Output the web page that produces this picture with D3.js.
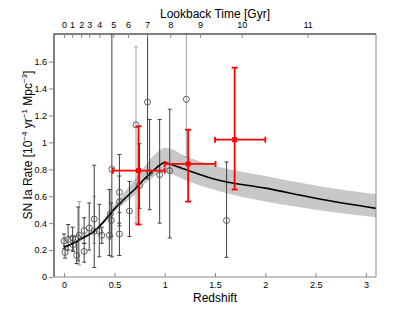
<!DOCTYPE html>
<html>
<head>
<meta charset="utf-8">
<script src="https://cdn.jsdelivr.net/npm/d3@7"></script>
<style>
  body { margin: 0; background: #fff; }
  text { font-family: "Liberation Sans", Arial, sans-serif; fill: #000; }
</style>
</head>
<body>
<div id="chart"></div>
<script>
// model curve
const modelZ    = [0, 0.1, 0.2, 0.3, 0.4, 0.5, 0.6, 0.7, 0.8, 0.9, 0.95, 1.0, 1.05, 1.2, 1.5, 2.0, 2.5, 3.1];
const modelRate = [0.22, 0.255, 0.295, 0.34, 0.415, 0.505, 0.58, 0.65, 0.73, 0.80, 0.83, 0.85, 0.84, 0.80, 0.726, 0.66, 0.585, 0.51];
const bandLo    = [0.22, 0.25, 0.285, 0.33, 0.405, 0.485, 0.55, 0.61, 0.69, 0.75, 0.77, 0.78, 0.77, 0.72, 0.646, 0.56, 0.50, 0.444];
const bandHi    = [0.22, 0.26, 0.305, 0.35, 0.435, 0.535, 0.63, 0.725, 0.82, 0.91, 0.94, 0.96, 0.955, 0.90, 0.827, 0.75, 0.68, 0.614];

// literature points, dark error bars
const darkZ    = [0.00, 0.01, 0.04, 0.085, 0.09, 0.125, 0.14, 0.20, 0.20, 0.25, 0.30, 0.35, 0.375, 0.45, 0.47, 0.475, 0.55, 0.55, 0.55, 0.65, 0.75, 0.83, 0.85, 0.95, 1.05, 1.615];
const darkRate = [0.267, 0.183, 0.28, 0.29, 0.24, 0.16, 0.29, 0.19, 0.345, 0.365, 0.34, 0.34, 0.31, 0.31, 0.42, 0.80, 0.56, 0.63, 0.32, 0.49, 0.68, 1.30, 0.775, 0.76, 0.79, 0.42];
const darkLo   = [0.21, 0.14, 0.20, 0.20, 0.19, 0.10, 0.12, 0.11, 0.25, 0.20, 0.07, 0.15, 0.25, 0.16, 0.30, 0.15, 0.38, 0.40, 0.16, 0.30, 0.51, 0.73, 0.50, 0.40, 0.29, 0.146];
const darkHi   = [0.32, 0.23, 0.39, 0.37, 0.30, 0.26, 0.52, 0.25, 0.44, 0.55, 0.83, 0.54, 0.37, 0.65, 0.55, 2.5, 0.75, 0.91, 0.48, 0.71, 0.99, 2.5, 1.17, 1.17, 1.246, 0.855];

// literature points, light error bars
const lightZ    = [0.15, 0.30, 0.46, 0.715, 1.215];
const lightRate = [0.31, 0.43, 0.47, 1.13, 1.32];
const lightLo   = [0.09, 0.25, 0.28, 0.40, 0.89];
const lightHi   = [0.56, 0.60, 0.65, 1.71, 2.5];

// this work (red)
const redZ    = [0.74, 1.233, 1.695];
const redZLo  = [0.486, 1.0, 1.5];
const redZHi  = [1.0, 1.505, 2.0];
const redRate = [0.79, 0.84, 1.02];
const redLo   = [0.39, 0.56, 0.65];
const redHi   = [1.12, 1.094, 1.555];

// top axis: lookback time labels at redshift positions
const lookbackGyr = [0, 1, 2, 3, 4, 5, 6, 7, 8, 9, 10, 11];
const lookbackZ   = [0, 0.08, 0.17, 0.25, 0.35, 0.49, 0.635, 0.825, 1.055, 1.35, 1.765, 2.42];

const xTicks = [0, 0.5, 1, 1.5, 2, 2.5, 3];
const yTicks = [0, 0.2, 0.4, 0.6, 0.8, 1, 1.2, 1.4, 1.6];

const W = 415, H = 312;
const L = 54, R = 376, T = 34, B = 277;

const svg = d3.select("#chart").append("svg")
  .attr("width", W).attr("height", H);

const x = d3.scaleLinear().domain([-0.1, 3.1]).range([L, R]);
const y = d3.scaleLinear().domain([0, 1.805]).range([B, T]);

svg.append("clipPath").attr("id", "clip")
  .append("rect").attr("x", L).attr("y", T).attr("width", R - L).attr("height", B - T);

const plot = svg.append("g").attr("clip-path", "url(#clip)");

// shaded band
const band = d3.area()
  .x((d, i) => x(modelZ[i]))
  .y0((d, i) => y(bandLo[i]))
  .y1((d, i) => y(bandHi[i]))
  .curve(d3.curveMonotoneX);
plot.append("path").datum(modelZ).attr("d", band).attr("fill", "#c8c8c8");

// error bars for grey data
function errSeries(zs, rs, lo, hi, col) {
  const g = plot.append("g");
  zs.forEach((z, i) => {
    const cx = x(z);
    g.append("line").attr("x1", cx).attr("x2", cx)
      .attr("y1", y(lo[i])).attr("y2", y(hi[i]))
      .attr("stroke", col).attr("stroke-width", 1);
    [lo[i], hi[i]].forEach(v => {
      g.append("line").attr("x1", cx - 2).attr("x2", cx + 2)
        .attr("y1", y(v)).attr("y2", y(v))
        .attr("stroke", col).attr("stroke-width", 1);
    });
  });
  return g;
}
errSeries(lightZ, lightRate, lightLo, lightHi, "#a0a0a0");
errSeries(darkZ, darkRate, darkLo, darkHi, "#404040");

// model line
const line = d3.line()
  .x((d, i) => x(modelZ[i]))
  .y((d, i) => y(modelRate[i]))
  .curve(d3.curveMonotoneX);
plot.append("path").datum(modelZ).attr("d", line)
  .attr("fill", "none").attr("stroke", "#000").attr("stroke-width", 1.6);

// circles
plot.selectAll(".pt").data(darkZ.map((z, i) => [z, darkRate[i]]).concat(lightZ.map((z, i) => [z, lightRate[i]])))
  .enter().append("circle")
  .attr("cx", d => x(d[0])).attr("cy", d => y(d[1])).attr("r", 3)
  .attr("fill", "none").attr("stroke", "#505050").attr("stroke-width", 0.9);

// red points
const red = plot.append("g").attr("stroke", "#f00").attr("stroke-width", 1.8);
redZ.forEach((z, i) => {
  const cx = x(z), cy = y(redRate[i]);
  red.append("line").attr("x1", cx).attr("x2", cx).attr("y1", y(redLo[i])).attr("y2", y(redHi[i]));
  red.append("line").attr("x1", x(redZLo[i])).attr("x2", x(redZHi[i])).attr("y1", cy).attr("y2", cy);
  [redLo[i], redHi[i]].forEach(v => red.append("line")
    .attr("x1", cx - 3).attr("x2", cx + 3).attr("y1", y(v)).attr("y2", y(v)));
  [redZLo[i], redZHi[i]].forEach(v => red.append("line")
    .attr("x1", x(v)).attr("x2", x(v)).attr("y1", cy - 3).attr("y2", cy + 3));
  red.append("rect").attr("x", cx - 2.5).attr("y", cy - 2.5).attr("width", 5).attr("height", 5)
    .attr("fill", "#f00").attr("stroke", "none");
});

// frame
svg.append("line").attr("x1", L).attr("x2", R).attr("y1", B).attr("y2", B).attr("stroke", "#888");
svg.append("line").attr("x1", R).attr("x2", R).attr("y1", T).attr("y2", B).attr("stroke", "#888");
svg.append("line").attr("x1", L).attr("x2", L).attr("y1", T).attr("y2", B).attr("stroke", "#808080").attr("stroke-width", 2);
svg.append("line").attr("x1", L).attr("x2", R).attr("y1", T).attr("y2", T).attr("stroke", "#000");

// bottom axis (ticks inside)
const xb = svg.append("g").attr("transform", `translate(0,${B})`)
  .call(d3.axisBottom(x).tickValues(xTicks).tickSizeInner(-4).tickSizeOuter(0).tickPadding(5).tickFormat(d3.format("")));
xb.select(".domain").remove();
xb.selectAll("line").attr("stroke", "#888");
xb.selectAll("text").attr("font-size", 9).attr("font-family", "Liberation Sans, Arial, sans-serif").attr("fill", "#222");

// left axis
const yl = svg.append("g").attr("transform", `translate(${L - 1},0)`)
  .call(d3.axisLeft(y).tickValues(yTicks).tickSize(4).tickPadding(2).tickFormat(d3.format("")));
yl.select(".domain").remove();
yl.selectAll("line").attr("stroke", "#888");
yl.selectAll("text").attr("font-size", 9).attr("font-family", "Liberation Sans, Arial, sans-serif").attr("fill", "#222");

// top axis lookback time (ticks inside)
const xt = svg.append("g").attr("transform", `translate(0,${T})`)
  .call(d3.axisTop(x).tickValues(lookbackZ).tickSizeInner(-4).tickSizeOuter(0).tickPadding(6)
    .tickFormat((d, i) => lookbackGyr[i]));
xt.select(".domain").remove();
xt.selectAll("line").attr("stroke", "#888");
xt.selectAll("text").attr("font-size", 9).attr("font-family", "Liberation Sans, Arial, sans-serif").attr("fill", "#222");

// titles
svg.append("text").attr("x", (L + R) / 2).attr("y", 18).attr("text-anchor", "middle")
  .attr("font-size", 12).text("Lookback Time [Gyr]");
svg.append("text").attr("x", (L + R) / 2).attr("y", 302).attr("text-anchor", "middle")
  .attr("font-size", 12).text("Redshift");

const yt = svg.append("text").attr("transform", "translate(32,145) rotate(-90)")
  .attr("text-anchor", "middle").attr("font-size", 12);
yt.append("tspan").text("SN Ia Rate [10");
yt.append("tspan").attr("font-size", 8).attr("dy", -5).text("\u22124");
yt.append("tspan").attr("dy", 5).text(" yr");
yt.append("tspan").attr("font-size", 8).attr("dy", -5).text("\u22121");
yt.append("tspan").attr("dy", 5).text(" Mpc");
yt.append("tspan").attr("font-size", 8).attr("dy", -5).text("\u22123");
yt.append("tspan").attr("dy", 5).text("]");
</script>
</body>
</html>
